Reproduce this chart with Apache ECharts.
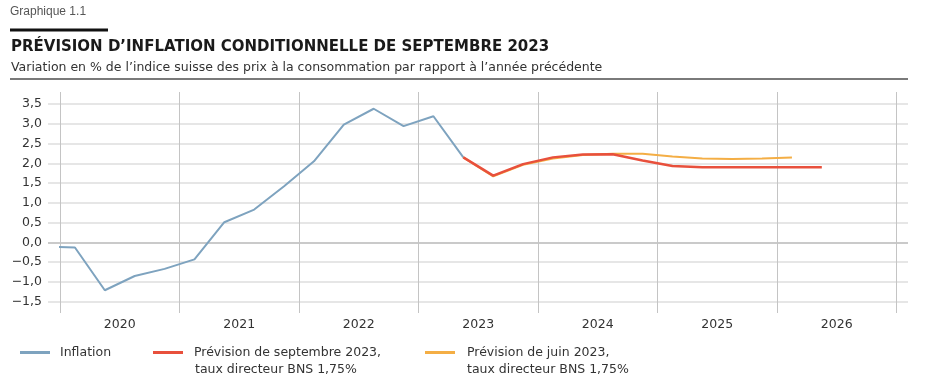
<!DOCTYPE html>
<html><head><meta charset="utf-8">
<script src="https://cdn.jsdelivr.net/npm/echarts@6/dist/echarts.min.js"></script>
<style>html,body{margin:0;padding:0;background:#fff}#c{width:930px;height:391px}</style>
</head><body><div id="c"></div>
<script>
// Quarters (year, quarter)
const quarters = ['2019T4','2020T1','2020T2','2020T3','2020T4','2021T1','2021T2','2021T3','2021T4','2022T1','2022T2','2022T3','2022T4','2023T1','2023T2','2023T3','2023T4','2024T1','2024T2','2024T3','2024T4','2025T1','2025T2','2025T3','2025T4','2026T1','2026T2'];
// Observed inflation (2019T4 .. 2023T2)
const inflation = [-0.1,-0.13,-1.21,-0.85,-0.67,-0.43,0.51,0.83,1.42,2.05,2.98,3.38,2.94,3.19,2.15];
// September 2023 forecast (2023T2 .. 2026T2)
const forecastSep = [2.15,1.69,1.98,2.15,2.22,2.23,2.07,1.93,1.90,1.90,1.90,1.90,1.90];
// June 2023 forecast (2023T2 .. 2026T1)
const forecastJun = [2.15,1.67,1.96,2.12,2.21,2.24,2.24,2.17,2.12,2.11,2.12,2.15];
const years = ['2020','2021','2022','2023','2024','2025','2026'];
const yTicks = {min:-1.5, max:3.5, step:0.5};

function qx(q){ const y=+q.slice(0,4), n=+q.slice(5); return y+(n-0.5)/4; }
function pairs(startQ, vals){ const i0=quarters.indexOf(startQ); return vals.map((v,i)=>[qx(quarters[i0+i]), v]); }

const FONT = '"DejaVu Sans", "Liberation Sans", Arial, sans-serif';
const chart = echarts.init(document.getElementById('c'));
const gridColors = [];
for (let v=yTicks.min; v<=yTicks.max+1e-9; v+=yTicks.step) gridColors.push(Math.abs(v)<1e-9 ? '#b8b8b8' : '#dedede');

chart.setOption({
  animation:false,
  textStyle:{fontFamily:FONT},
  title:[
    {text:'Graphique 1.1', left:10, top:6, padding:0, textStyle:{fontSize:12, fontWeight:'normal', color:'#555', fontFamily:'"Liberation Sans", Arial, sans-serif'}},
    {text:'PRÉVISION D\u2019INFLATION CONDITIONNELLE DE SEPTEMBRE 2023', left:11, top:40, padding:0, textStyle:{fontSize:15, fontWeight:'bold', color:'#1a1a1a', fontFamily:FONT}},
    {text:'Variation en % de l\u2019indice suisse des prix à la consommation par rapport à l\u2019année précédente', left:11, top:61, padding:0, textStyle:{fontSize:12.5, fontWeight:'normal', color:'#333', fontFamily:FONT}}
  ],
  graphic:[
    {type:'rect', shape:{x:10, y:28.5, width:98, height:3}, style:{fill:'#111'}},
    {type:'line', shape:{x1:10, y1:79, x2:908, y2:79}, style:{stroke:'#7a7a7a', lineWidth:2}},
    {type:'text', left:195, top:363, style:{text:'taux directeur BNS 1,75%', fontSize:12.5, fill:'#333', fontFamily:FONT}},
    {type:'text', left:467, top:363, style:{text:'taux directeur BNS 1,75%', fontSize:12.5, fill:'#333', fontFamily:FONT}}
  ],
  legend:[
    {data:['Inflation'], left:15, top:341, icon:'rect', itemWidth:30, itemHeight:3, textStyle:{fontSize:12.5, color:'#333', padding:[0,0,0,5]}},
    {data:['Prévision de septembre 2023,'], left:148, top:341, icon:'rect', itemWidth:30, itemHeight:3, textStyle:{fontSize:12.5, color:'#333', padding:[0,0,0,6]}},
    {data:['Prévision de juin 2023,'], left:420, top:341, icon:'rect', itemWidth:30, itemHeight:3, textStyle:{fontSize:12.5, color:'#333', padding:[0,0,0,7]}}
  ],
  grid:[
    {left:60, right:33.5, top:104, bottom:89.3},   // data
    {left:48, right:22, top:104, bottom:89.3},     // horizontal grid + y labels
    {left:60, right:33.5, top:92, bottom:78}       // vertical year lines + year labels
  ],
  xAxis:[
    {type:'value', gridIndex:0, min:2020, max:2027, show:false},
    {type:'value', gridIndex:1, min:0, max:1, show:false},
    {type:'category', gridIndex:2, data:years, boundaryGap:true,
     axisLine:{show:false}, axisTick:{show:false},
     axisLabel:{fontSize:12.5, color:'#333', margin:5, fontFamily:FONT},
     splitLine:{show:true, lineStyle:{color:'#c4c4c4', width:1}}}
  ],
  yAxis:[
    {type:'value', gridIndex:0, min:yTicks.min, max:yTicks.max, show:false},
    {type:'value', gridIndex:1, min:yTicks.min, max:yTicks.max, interval:yTicks.step,
     axisLine:{show:false}, axisTick:{show:false},
     axisLabel:{fontSize:12.5, color:'#333', margin:6, fontFamily:FONT,
       formatter:v=>(v<0?'\u2212':'')+Math.abs(v).toFixed(1).replace('.',',')},
     splitLine:{show:true, lineStyle:{color:gridColors, width:1.5}}},
    {type:'value', gridIndex:2, min:0, max:1, show:false}
  ],
  series:[
    {name:'Inflation', type:'line', xAxisIndex:0, yAxisIndex:0, data:pairs('2019T4', inflation), showSymbol:false, lineStyle:{color:'#7ea3bf', width:2}, itemStyle:{color:'#7ea3bf'}},
    {name:'Prévision de juin 2023,', type:'line', xAxisIndex:0, yAxisIndex:0, data:pairs('2023T2', forecastJun), showSymbol:false, lineStyle:{color:'#f4ae45', width:2}, itemStyle:{color:'#f4ae45'}},
    {name:'Prévision de septembre 2023,', type:'line', xAxisIndex:0, yAxisIndex:0, data:pairs('2023T2', forecastSep), showSymbol:false, lineStyle:{color:'#e8503c', width:2.5}, itemStyle:{color:'#e8503c'}}
  ]
});
</script></body></html>
